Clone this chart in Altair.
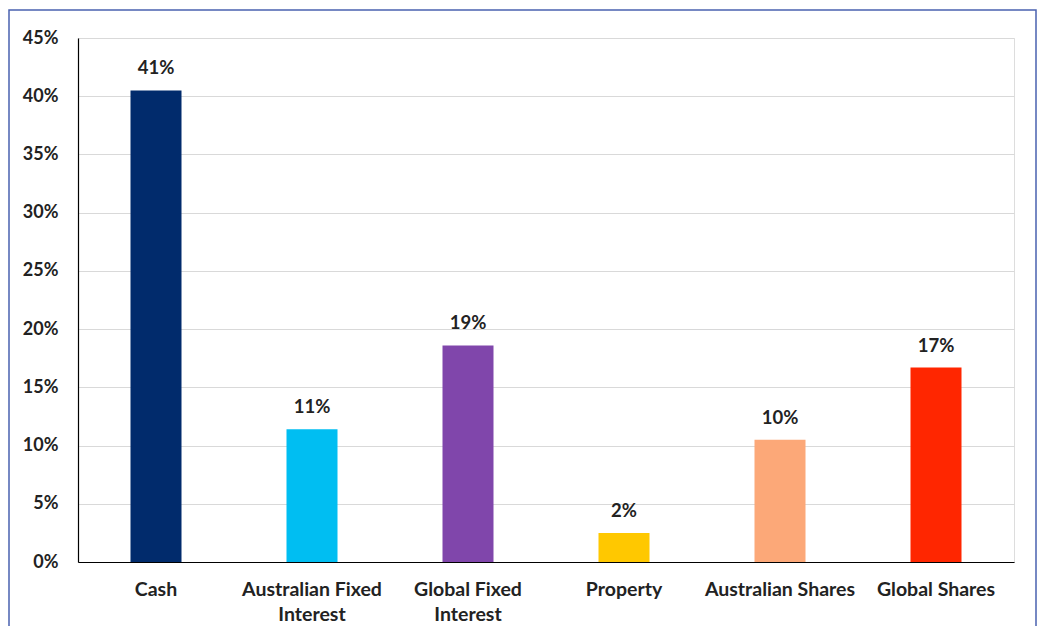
import altair as alt
import pandas as pd

categories = ["Cash", "Australian Fixed Interest", "Global Fixed Interest",
              "Property", "Australian Shares", "Global Shares"]
values = [40.5, 11.4, 18.6, 2.5, 10.5, 16.7]
labels = ["41%", "11%", "19%", "2%", "10%", "17%"]
colors = ["#012b6c", "#00bef2", "#8046ab", "#ffc800", "#fca878", "#ff2600"]
y_ticks = [0, 5, 10, 15, 20, 25, 30, 35, 40, 45]

df = pd.DataFrame({"category": categories, "value": values, "label": labels})

FONT = "Lato"
TXT = "#222222"

x_enc = alt.X(
    "category:N", sort=categories, title=None,
    scale=alt.Scale(paddingInner=0, paddingOuter=0),
    axis=alt.Axis(
        labelAngle=0, ticks=False, domainColor="#000000", domainWidth=1.2,
        labelFont=FONT, labelFontSize=19.5, labelFontWeight="bold", labelColor=TXT,
        labelPadding=18, labelLineHeight=25, labelBaseline="top", labelLimit=200,
        labelExpr="datum.label == 'Australian Fixed Interest' ? ['Australian Fixed', 'Interest'] : "
                  "(datum.label == 'Global Fixed Interest' ? ['Global Fixed', 'Interest'] : datum.label)",
    ),
)

y_enc = alt.Y(
    "value:Q", title=None,
    scale=alt.Scale(domain=[0, 45], nice=False),
    axis=alt.Axis(
        values=y_ticks, labelExpr="datum.value + '%'", ticks=False,
        domainColor="#000000", domainWidth=1.2,
        gridColor="#d9d9d9", gridWidth=1,
        labelFont=FONT, labelFontSize=18, labelFontWeight="bold", labelColor=TXT,
        labelPadding=20,
    ),
)

base = alt.Chart(df)

bars = base.mark_bar(size=51).encode(
    x=x_enc,
    y=y_enc,
    color=alt.Color("category:N", sort=categories,
                    scale=alt.Scale(domain=categories, range=colors), legend=None),
)

text = base.mark_text(
    baseline="alphabetic", dy=-16, font=FONT, fontSize=18.5, fontWeight="bold", color=TXT
).encode(
    x=alt.X("category:N", sort=categories),
    y=alt.Y("value:Q"),
    text="label:N",
)

border = alt.Chart(pd.DataFrame({"a": [0]})).mark_rect(
    filled=False, stroke="#4a62b0", strokeWidth=1.5
).encode(
    x=alt.value(-69), x2=alt.value(958), y=alt.value(-28), y2=alt.value(660)
)

chart = alt.layer(border, bars, text).properties(
    width=936, height=524,
    autosize=alt.AutoSizeParams(type="none"),
    padding={"left": 70, "top": 30, "right": 24, "bottom": 64},
).configure_view(stroke=None).configure(background="#ffffff")

chart.save("out.html", embed_options={"renderer": "svg", "actions": False})
